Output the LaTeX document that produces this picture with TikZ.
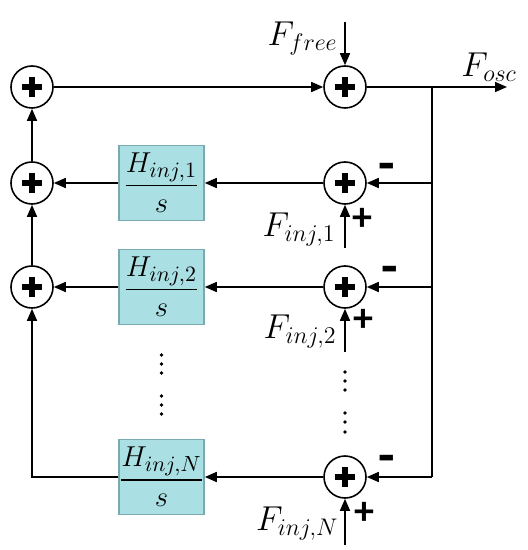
\documentclass[tikz,border=0pt]{standalone}
\usepackage{amsmath}
\usepackage{fontspec}
\newfontfamily\signfont{Carlito}
\usetikzlibrary{arrows.meta}
\DeclareMathSizes{16}{16}{13}{10}
\DeclareMathSizes{13.5}{13.5}{11}{8.5}
\definecolor{boxfill}{RGB}{170,224,228}
\definecolor{boxline}{RGB}{120,170,176}
\tikzstyle{every node}=[font=\fontsize{16}{19}\selectfont]
\tikzstyle{adder}=[draw=black,line width=0.8pt,circle,minimum size=21pt,inner sep=0pt,
  path picture={
    \draw[line width=2.6pt] ([xshift=-5pt]path picture bounding box.center) -- ([xshift=5pt]path picture bounding box.center);
    \draw[line width=2.6pt] ([yshift=-5pt]path picture bounding box.center) -- ([yshift=5pt]path picture bounding box.center);}]
\tikzstyle{filter}=[draw=boxline,fill=boxfill,line width=0.8pt,minimum width=42.5pt,minimum height=37.5pt,inner sep=0pt,
  font=\fontsize{13.5}{16}\selectfont]
\tikzstyle{sig}=[line width=0.8pt,-{Triangle[length=6pt,width=5pt]}]
\tikzstyle{wire}=[line width=0.8pt]
\tikzstyle{lbl}=[inner sep=0pt]
\tikzstyle{pluslbl}=[inner sep=0pt,font=\signfont\bfseries\fontsize{20}{20}\selectfont]
\tikzstyle{minuslbl}=[inner sep=0pt,font=\signfont\bfseries\fontsize{27}{27}\selectfont]

\begin{document}
\begin{tikzpicture}[x=0.5pt,y=-0.5pt]
  \useasboundingbox (0,0) rectangle (527,550);

  % summing points
  \node[adder] (s0) at (32,87) {};
  \node[adder] (sf) at (345,87) {};
  \node[adder] (a1) at (32,183) {};
  \node[adder] (a2) at (32,287) {};
  \node[adder] (c1) at (345,183) {};
  \node[adder] (c2) at (345,287) {};
  \node[adder] (cN) at (345,477) {};

  % integrators
  \node[filter] (b1) at (161.5,183) {$\dfrac{H_{inj,1}}{s}$};
  \node[filter] (b2) at (161.5,287) {$\dfrac{H_{inj,2}}{s}$};
  \node[filter] (bN) at (161.5,477) {$\dfrac{H_{inj,N}}{s}$};

  \coordinate (j0) at (432,87);
  \coordinate (j1) at (432,183);
  \coordinate (j2) at (432,287);
  \coordinate (jN) at (432,477);
  \coordinate (out) at (507,87);
  \coordinate (ftop) at (345,22);
  \coordinate (i1) at (345,248);
  \coordinate (i2) at (345,352);
  \coordinate (iN) at (345,545);

  % forward path
  \draw[sig] (s0) -- (sf);
  \draw[sig] (ftop) -- (sf);
  \draw[sig] (sf) -- (out);
  \draw[wire] (j0) -- (jN);

  % injection branches
  \draw[sig] (j1) -- (c1);
  \draw[sig] (c1) -- (b1);
  \draw[sig] (b1) -- (a1);
  \draw[sig] (j2) -- (c2);
  \draw[sig] (c2) -- (b2);
  \draw[sig] (b2) -- (a2);
  \draw[sig] (jN) -- (cN);
  \draw[sig] (cN) -- (bN);
  \draw[sig] (bN.west) -| (a2.south);
  \draw[sig] (a2) -- (a1);
  \draw[sig] (a1) -- (s0);
  \draw[sig] (i1) -- (c1);
  \draw[sig] (i2) -- (c2);
  \draw[sig] (iN) -- (cN);

  % labels
  \node[lbl,anchor=north east] (lfree) at (338,21) {$F_{free}$};
  \node[lbl,anchor=north west] (losc) at (461,52) {$F_{osc}$};
  \node[lbl,anchor=north east] (linj1) at (336,212) {$F_{inj,1}$};
  \node[lbl,anchor=north east] (linj2) at (337,314) {$F_{inj,2}$};
  \node[lbl,anchor=north east] (linjN) at (339,506) {$F_{inj,N}$};

  \node[minuslbl] (m1) at (387,172) {-};
  \node[minuslbl] (m2) at (390,275) {-};
  \node[minuslbl] (mN) at (387,464) {-};
  \node[pluslbl] (p1) at (362,219) {+};
  \node[pluslbl] (p2) at (363,320) {+};
  \node[pluslbl] (pN) at (364,513) {+};

  % ellipses
  \foreach \y in {355,364,373,396,405,414}
    \fill (161.5,\y) circle (0.9pt);
  \foreach \y in {372,381,390,413,422,432}
    \fill (345,\y) circle (0.9pt);
\end{tikzpicture}
\end{document}
